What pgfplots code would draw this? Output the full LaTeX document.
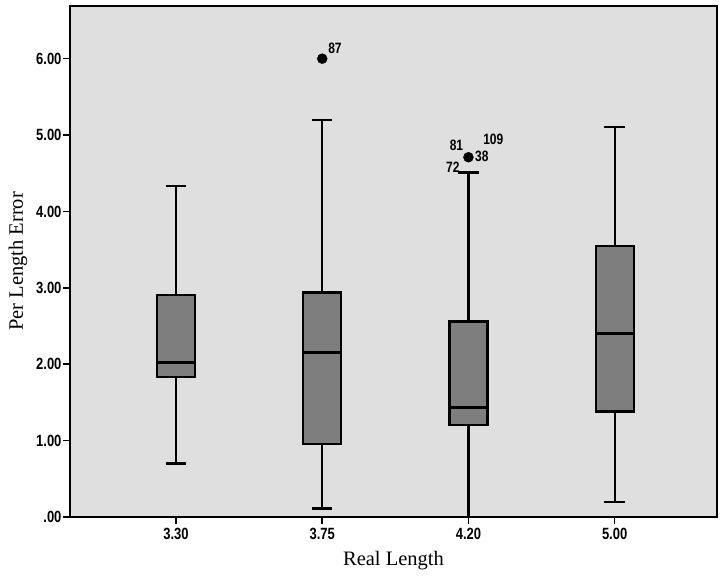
\documentclass[border=0pt]{standalone}
\usepackage{fontspec}
\setmainfont{Liberation Serif}
\newfontfamily\tickfont{Liberation Sans}
\usepackage{pgfplots}
\pgfplotsset{compat=1.18}
\usepgfplotslibrary{statistics}

\definecolor{panelbg}{RGB}{223,223,223}
\definecolor{boxfill}{RGB}{126,126,126}

% tall, bold tick digits like the SPSS output
\newcommand{\tl}[1]{\scalebox{1}[1.25]{#1}}

\tikzset{
  outlabel/.style={font=\tickfont\bfseries\fontsize{12bp}{13bp}\selectfont, inner sep=0pt},
}

\begin{document}
\begin{tikzpicture}
% page frame, 721 x 576
\path (0,0) rectangle (721bp,576bp);
\begin{axis}[
    at={(70bp,59bp)}, anchor=south west,
    scale only axis,
    width=647bp, height=511bp,
    xmin=0.275, xmax=4.70,
    ymin=0, ymax=6.69,
    axis background/.style={fill=panelbg},
    axis line style={line width=2bp, black},
    xtick={1,2,3,4},
    xticklabels={\tl{3.30},\tl{3.75},\tl{4.20},\tl{5.00}},
    ytick={0,1,2,3,4,5,6},
    yticklabels={\tl{.00},\tl{1.00},\tl{2.00},\tl{3.00},\tl{4.00},\tl{5.00},\tl{6.00}},
    tick align=outside,
    major tick length=7bp,
    tick style={line width=1.6bp, black},
    xtick pos=bottom, ytick pos=left,
    ticklabel style={font=\tickfont\bfseries\fontsize{13bp}{14bp}\selectfont},
    xticklabel style={yshift=-1bp},
    yticklabel style={xshift=2bp},
    xlabel={Real Length},
    ylabel={Per Length Error},
    label style={font=\fontsize{20.5bp}{22bp}\selectfont},
    xlabel style={yshift=-4bp},
    ylabel style={yshift=2bp},
    boxplot/draw direction=y,
    boxplot/box extend=0.26,
    boxplot/whisker extend=0.14,
    boxplot/every median/.style={line width=2.8bp},
    clip=false,
]

\pgfplotsset{
  mybox/.style={solid, draw=black, line width=2.2bp, fill=boxfill, mark=none},
}

\addplot[mybox, boxplot prepared={draw position=1,
    lower whisker=0.70, lower quartile=1.83, median=2.02,
    upper quartile=2.91, upper whisker=4.33}] coordinates {};
\addplot[mybox, boxplot prepared={draw position=2,
    lower whisker=0.11, lower quartile=0.96, median=2.15,
    upper quartile=2.94, upper whisker=5.20}] coordinates {};
\addplot[mybox, boxplot prepared={draw position=3,
    lower whisker=0.0, lower quartile=1.20, median=1.43,
    upper quartile=2.56, upper whisker=4.51}] coordinates {};
\addplot[mybox, boxplot prepared={draw position=4,
    lower whisker=0.20, lower quartile=1.38, median=2.40,
    upper quartile=3.55, upper whisker=5.11}] coordinates {};

% outliers
\addplot[only marks, mark=*, mark size=5bp, black] coordinates {
(2,6.00)
(3,4.71)
};

\node[outlabel, anchor=south west] at (axis cs:2.04,6.07) {\tl{87}};
\node[outlabel, anchor=south east] at (axis cs:2.965,4.80) {\tl{81}};
\node[outlabel, anchor=south west] at (axis cs:3.10,4.87) {\tl{109}};
\node[outlabel, anchor=west] at (axis cs:3.045,4.72) {\tl{38}};
\node[outlabel, anchor=east] at (axis cs:2.94,4.58) {\tl{72}};
\end{axis}
\end{tikzpicture}
\end{document}
